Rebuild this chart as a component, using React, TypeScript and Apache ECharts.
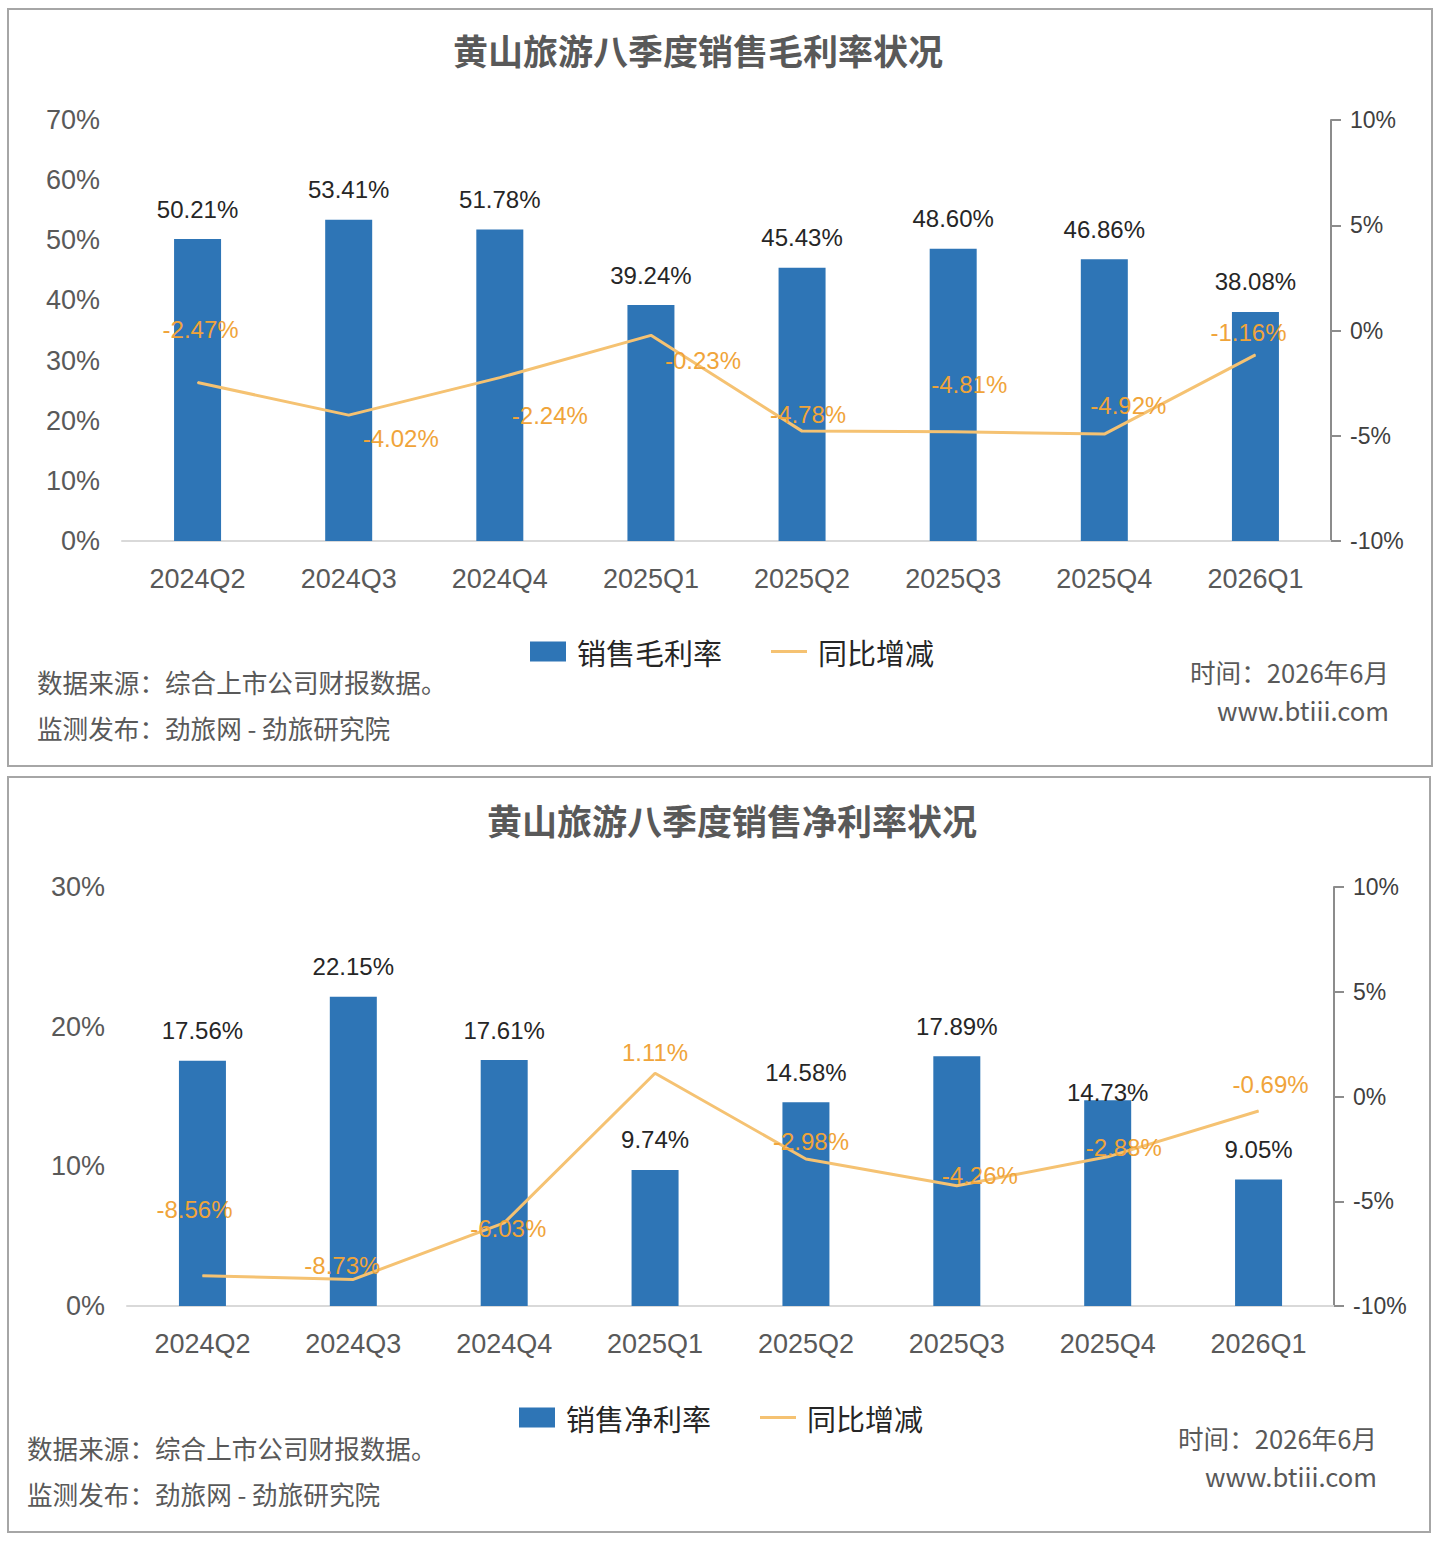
import React, { useEffect, useRef } from "react";
import * as echarts from "echarts";

const categories = ["2024Q2", "2024Q3", "2024Q4", "2025Q1", "2025Q2", "2025Q3", "2025Q4", "2026Q1"];
const grossMargin = [50.21, 53.41, 51.78, 39.24, 45.43, 48.6, 46.86, 38.08];
const grossYoY = [-2.47, -4.02, -2.24, -0.23, -4.78, -4.81, -4.92, -1.16];
const netMargin = [17.56, 22.15, 17.61, 9.74, 14.58, 17.89, 14.73, 9.05];
const netYoY = [-8.56, -8.73, -6.03, 1.11, -2.98, -4.26, -2.88, -0.69];

const title1 = "黄山旅游八季度销售毛利率状况";
const title2 = "黄山旅游八季度销售净利率状况";
const barName1 = "销售毛利率";
const barName2 = "销售净利率";
const lineName = "同比增减";
const sourceText = "数据来源：综合上市公司财报数据。";
const publishText = "监测发布：劲旅网 - 劲旅研究院";
const timeText = "时间：2026年6月";
const siteText = "www.btiii.com";

// label placement offsets (layout only)
const grossLineLabelOffsets = [[3, -53], [52, 23], [50, 38], [52, 25], [6, -17], [16, -47], [24, -29], [-7, -22]];
const netLineLabelOffsets = [[-8, -66], [-11, -14], [4, 6], [0, -21], [5, -17], [23, -10], [16, -9], [12, -26]];
const netBarLabelOffsets = [[0, 0], [0, 0], [0, 0], [0, 0], [0, 0], [0, 0], [0, 22], [0, 0]];

const BLUE = "#2E75B6";
const LINE = "#F5C272";
const LINE_LABEL = "#F0A43A";
const GRAY = "#595959";
const NUM_FONT = "'Liberation Sans', 'Noto Sans CJK SC', sans-serif";
const CJK_FONT = "'Noto Sans CJK SC', sans-serif";

function App() {
  const ref = useRef<HTMLDivElement>(null);
  useEffect(() => {
    if (!ref.current) return;
    const chart = echarts.init(ref.current, undefined, { renderer: "svg" });
    const pct = (p: any) => Number(p.value).toFixed(2) + "%";
    const xAxisCommon = {
      type: "category",
      data: categories,
      axisTick: { show: false },
      axisLine: { lineStyle: { color: "#D9D9D9", width: 2 } },
      axisLabel: { color: GRAY, fontSize: 27, margin: 24, fontFamily: NUM_FONT },
    };
    const leftAxis = (gridIndex: number, max: number) => ({
      type: "value",
      gridIndex,
      min: 0,
      max,
      interval: 10,
      splitLine: { show: false },
      axisLine: { show: false },
      axisTick: { show: false },
      axisLabel: { formatter: "{value}%", color: GRAY, fontSize: 27, margin: 22, fontFamily: NUM_FONT },
    });
    const rightAxis = (gridIndex: number) => ({
      type: "value",
      gridIndex,
      position: "right",
      min: -10,
      max: 10,
      interval: 5,
      splitLine: { show: false },
      axisLine: { show: true, lineStyle: { color: "#8C8C8C", width: 2 } },
      axisTick: { show: true, length: 10, lineStyle: { color: "#8C8C8C", width: 2 } },
      axisLabel: { formatter: "{value}%", color: "#404040", fontSize: 23, margin: 19, fontFamily: NUM_FONT },
    });
    const lineIcon = "path://M0,0 L36,0 L36,3 L0,3 Z";
    const legend = (left: number, top: number, barName: string) => ({
      left,
      top,
      itemWidth: 36,
      itemHeight: 20,
      itemGap: 49,
      textStyle: { color: "#262626", fontSize: 29, fontFamily: CJK_FONT, padding: [0, 0, 0, 6] },
      data: [
        { name: barName, icon: "rect" },
        { name: lineName, icon: lineIcon },
      ],
    });
    const footerText = (x: number, y: number, text: string, align: string) => ({
      type: "text",
      x,
      y,
      style: {
        text,
        fill: GRAY,
        fontSize: 25.6,
        fontFamily: CJK_FONT,
        textAlign: align,
        textVerticalAlign: "middle",
      },
    });
    const titleText = (x: number, y: number, text: string) => ({
      type: "text",
      x,
      y,
      style: {
        text,
        fill: GRAY,
        fontSize: 35,
        fontWeight: "bold",
        fontFamily: CJK_FONT,
        textAlign: "center",
        textVerticalAlign: "middle",
      },
    });
    const barSeries = (name: string, values: number[], idx: number, offsets?: number[][]) => ({
      type: "bar",
      name,
      xAxisIndex: idx,
      yAxisIndex: idx * 2,
      barWidth: 47,
      itemStyle: { color: BLUE },
      label: {
        show: true,
        position: "top",
        distance: 18,
        color: "#262626",
        fontSize: 24,
        fontFamily: NUM_FONT,
        formatter: pct,
      },
      data: values.map((v, i) => (offsets ? { value: v, label: { offset: offsets[i] } } : v)),
    });
    const lineSeries = (values: number[], idx: number, offsets: number[][]) => ({
      type: "line",
      name: lineName,
      xAxisIndex: idx,
      yAxisIndex: idx * 2 + 1,
      symbol: "circle",
      symbolSize: 1,
      itemStyle: { color: LINE },
      lineStyle: { color: LINE, width: 3 },
      z: 5,
      label: {
        show: true,
        position: "inside",
        color: LINE_LABEL,
        fontSize: 24,
        fontFamily: NUM_FONT,
        formatter: pct,
      },
      data: values.map((v, i) => ({ value: v, label: { offset: offsets[i] } })),
    });

    chart.setOption({
      animation: false,
      backgroundColor: "#FFFFFF",
      textStyle: { fontFamily: NUM_FONT },
      grid: [
        { left: 122, right: 109, top: 120, height: 421 },
        { left: 127, right: 106, top: 887, height: 419 },
      ],
      xAxis: [
        { ...xAxisCommon, gridIndex: 0 },
        { ...xAxisCommon, gridIndex: 1 },
      ],
      yAxis: [leftAxis(0, 70), rightAxis(0), leftAxis(1, 30), rightAxis(1)],
      legend: [legend(525, 632, barName1), legend(514, 1398, barName2)],
      graphic: [
        {
          type: "rect",
          shape: { x: 8, y: 9, width: 1424, height: 757 },
          style: { fill: "none", stroke: "#A6A6A6", lineWidth: 2 },
        },
        {
          type: "rect",
          shape: { x: 8, y: 777, width: 1422, height: 755 },
          style: { fill: "none", stroke: "#A6A6A6", lineWidth: 2 },
        },
        titleText(698, 49, title1),
        titleText(732, 819, title2),
        footerText(37, 681, sourceText, "left"),
        footerText(37, 727, publishText, "left"),
        footerText(1389, 671, timeText, "right"),
        footerText(1389, 709, siteText, "right"),
        footerText(27, 1447, sourceText, "left"),
        footerText(27, 1493, publishText, "left"),
        footerText(1377, 1437, timeText, "right"),
        footerText(1377, 1475, siteText, "right"),
      ],
      series: [
        barSeries(barName1, grossMargin, 0),
        lineSeries(grossYoY, 0, grossLineLabelOffsets),
        barSeries(barName2, netMargin, 1, netBarLabelOffsets),
        lineSeries(netYoY, 1, netLineLabelOffsets),
      ],
    });
    return () => chart.dispose();
  }, []);
  return (
    <div
      ref={ref}
      style={{ position: "absolute", left: 0, top: 0, width: 1440, height: 1542, background: "#fff" }}
    />
  );
}

export default App;
